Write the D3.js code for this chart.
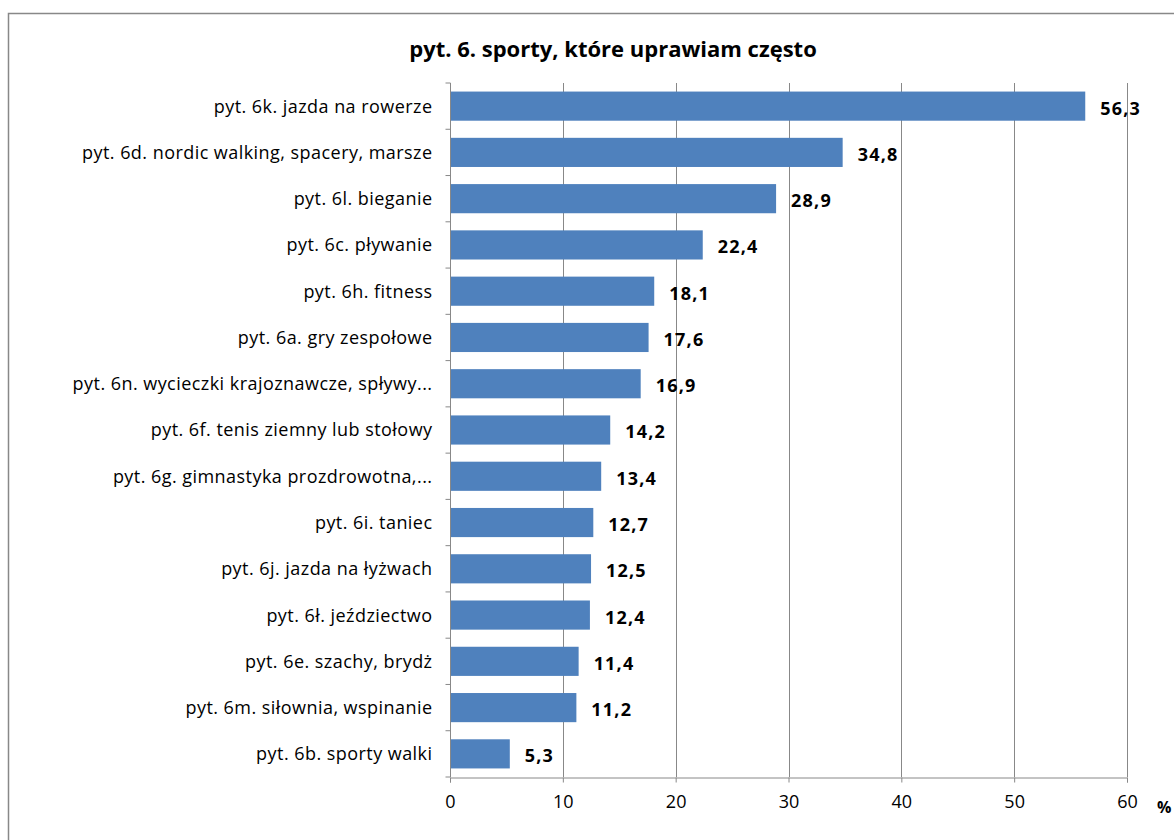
<!DOCTYPE html>
<html><head><meta charset="utf-8">
<script src="https://cdn.jsdelivr.net/npm/d3@7"></script>
<style>body{margin:0;background:#fff;} svg{display:block;}</style>
</head><body>
<script>
const categories = [
  "pyt. 6k. jazda na rowerze",
  "pyt. 6d. nordic walking, spacery, marsze",
  "pyt. 6l. bieganie",
  "pyt. 6c. pływanie",
  "pyt. 6h. fitness",
  "pyt. 6a. gry zespołowe",
  "pyt. 6n. wycieczki krajoznawcze, spływy...",
  "pyt. 6f. tenis ziemny lub stołowy",
  "pyt. 6g. gimnastyka prozdrowotna,...",
  "pyt. 6i. taniec",
  "pyt. 6j. jazda na łyżwach",
  "pyt. 6ł. jeździectwo",
  "pyt. 6e. szachy, brydż",
  "pyt. 6m. siłownia, wspinanie",
  "pyt. 6b. sporty walki"
];
const values = [56.3, 34.8, 28.9, 22.4, 18.1, 17.6, 16.9, 14.2, 13.4, 12.7, 12.5, 12.4, 11.4, 11.2, 5.3];
const xTicks = [0, 10, 20, 30, 40, 50, 60];
const title = "pyt. 6. sporty, które uprawiam  często";
const unit = "%";

(function () {
const W = 1174, H = 840;
const font = "'Open Sans', sans-serif";
const svg = d3.select("body").append("svg").attr("width", W).attr("height", H);

// outer border
svg.append("rect").attr("x", 8.5).attr("y", 13.5).attr("width", W + 10).attr("height", H + 10)
  .attr("fill", "#fff").attr("stroke", "#888").attr("stroke-width", 1.5);

const pl = 450, pr = 1127, pt = 83, pb = 777;
const x = d3.scaleLinear().domain([0, 60]).range([pl, pr]);
const y = d3.scaleBand().domain(categories).range([pt, pb]).paddingInner(0.37).paddingOuter(0.185);

// gridlines
svg.append("g").selectAll("line").data(xTicks.slice(1)).join("line")
  .attr("x1", d => Math.round(x(d)) + 0.5).attr("x2", d => Math.round(x(d)) + 0.5)
  .attr("y1", pt).attr("y2", pb)
  .attr("stroke", "#888").attr("stroke-width", 1);

// bars
svg.append("g").selectAll("rect").data(values).join("rect")
  .attr("x", x(0)).attr("y", (d, i) => y(categories[i]))
  .attr("width", d => x(d) - x(0)).attr("height", y.bandwidth())
  .attr("fill", "#4F81BD");

// value labels
svg.append("g").selectAll("text").data(values).join("text")
  .attr("x", d => x(d) + 15).attr("y", (d, i) => y(categories[i]) + y.bandwidth() / 2 + 2)
  .attr("dy", "0.36em")
  .attr("font-family", font).attr("font-size", 18).attr("font-weight", "bold").attr("fill", "#000")
  .attr("letter-spacing", "1.2px")
  .text(d => d.toFixed(1).replace(".", ","));

// x axis
const xAxis = d3.axisBottom(x).tickValues(xTicks).tickSize(5).tickPadding(13).tickFormat(d => d);
const gx = svg.append("g").attr("transform", `translate(0,${pb + 0.5})`).call(xAxis);
gx.select(".domain").attr("stroke", "#888");
gx.selectAll(".tick line").attr("stroke", "#888");
gx.selectAll("text").attr("font-family", font).attr("font-size", 18).attr("fill", "#000");

// y axis
const gy = svg.append("g").attr("transform", `translate(${pl + 0.5},0)`);
gy.append("line").attr("x1", 0).attr("x2", 0).attr("y1", pt).attr("y2", pb).attr("stroke", "#888");
const boundaries = d3.range(categories.length + 1).map(i => pt + (pb - pt) * i / categories.length);
gy.selectAll("line.tk").data(boundaries).join("line").attr("class", "tk")
  .attr("x1", -5).attr("x2", 0).attr("y1", d => d).attr("y2", d => d).attr("stroke", "#888");
gy.selectAll("text").data(categories).join("text")
  .attr("x", -18).attr("y", d => y(d) + y.bandwidth() / 2).attr("dy", "0.36em")
  .attr("text-anchor", "end")
  .attr("font-family", font).attr("font-size", 18).attr("fill", "#000")
  .attr("letter-spacing", "0.45px")
  .text(d => d);

// title
svg.append("text").attr("x", 613).attr("y", 57).attr("text-anchor", "middle")
  .attr("font-family", font).attr("font-size", 22).attr("font-weight", "bold").text(title);

// unit
svg.append("text").attr("x", 1157).attr("y", pb + 36).attr("font-family", font)
  .attr("font-size", 16).attr("font-weight", "bold").text(unit);
})();
</script>
</body></html>
